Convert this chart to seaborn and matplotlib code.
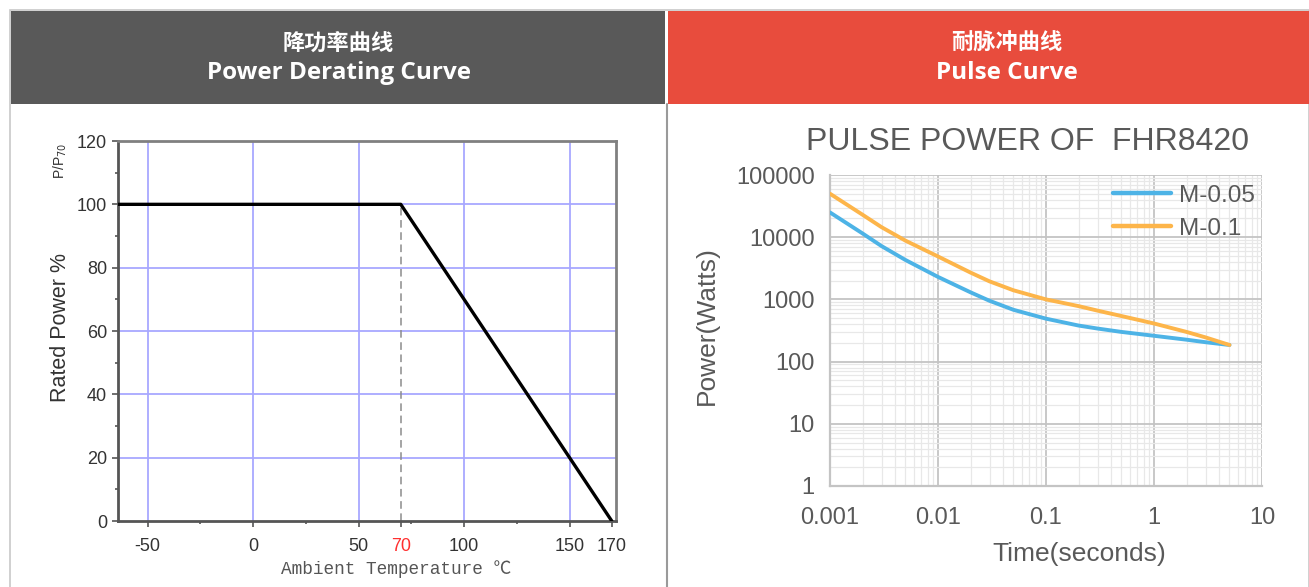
import numpy as np
import pandas as pd
import matplotlib
matplotlib.use("Agg")
import matplotlib.pyplot as plt
import seaborn as sns
from matplotlib.patches import Rectangle
from matplotlib.lines import Line2D
from matplotlib.ticker import FixedLocator, NullFormatter, LogLocator

sns.set_theme(style="white")
plt.rcParams['font.family'] = ['Liberation Sans', 'Noto Sans CJK SC', 'DejaVu Sans']

# ---------------- data ----------------
derate_temp = [-65, 70, 170]
derate_power = [100, 100, 0]
derate_xticks = [-50, 0, 50, 70, 100, 150, 170]
derate_yticks = [0, 20, 40, 60, 80, 100, 120]

pulse_time = [0.001, 0.002, 0.003, 0.005, 0.01, 0.02, 0.03, 0.05, 0.1, 0.2, 0.3, 0.5, 1, 2, 3, 5]
pulse_m005 = [25000, 11500, 7200, 4300, 2300, 1300, 950, 680, 490, 380, 340, 300, 260, 225, 205, 185]
pulse_m01 = [50000, 23000, 14500, 8800, 4900, 2700, 1950, 1400, 1000, 780, 660, 540, 410, 300, 245, 185]
pulse_xticks = [0.001, 0.01, 0.1, 1, 10]
pulse_xticklabels = ["0.001", "0.01", "0.1", "1", "10"]
pulse_yticks = [1, 10, 100, 1000, 10000, 100000]
pulse_yticklabels = ["1", "10", "100", "1000", "10000", "100000"]

W, H = 1309, 587
fig = plt.figure(figsize=(W / 100, H / 100), dpi=100)
fig.patch.set_facecolor("white")


def box(x0, y0, x1, y1):
    return [x0 / W, 1 - y1 / H, (x1 - x0) / W, (y1 - y0) / H]


def fx(px):
    return px / W


def fy(py):
    return 1 - py / H


# ------------- frame & headers -------------
def rect(x0, y0, x1, y1, **kw):
    fig.patches.append(Rectangle((x0 / W, 1 - y1 / H), (x1 - x0) / W, (y1 - y0) / H,
                                 transform=fig.transFigure, zorder=-5, **kw))


rect(10, 10, 1309, 600, facecolor="white", edgecolor="#C8C8C8", linewidth=1.2)
rect(11, 11, 665, 104, facecolor="#595959", edgecolor="none")
rect(668, 11, 1309, 104, facecolor="#E84C3D", edgecolor="none")
fig.lines.append(Line2D([fx(666.5), fx(666.5)], [fy(104), 0], transform=fig.transFigure,
                        color="#9A9A9A", linewidth=1.5, zorder=-4))

hdr_font = ['Noto Sans CJK SC', 'DejaVu Sans']
fig.text(fx(338), fy(43), "降功率曲线", color="white", fontsize=16, fontweight="bold",
         ha="center", va="center", family=hdr_font)
fig.text(fx(339), fy(73), "Power Derating Curve", color="white", fontsize=17.5, fontweight="bold",
         ha="center", va="center", family=['Open Sans', 'DejaVu Sans'])
fig.text(fx(1007), fy(43), "耐脉冲曲线", color="white", fontsize=16, fontweight="bold",
         ha="center", va="center", family=hdr_font)
fig.text(fx(1007), fy(73), "Pulse Curve", color="white", fontsize=17.5, fontweight="bold",
         ha="center", va="center", family=['Open Sans', 'DejaVu Sans'])

# ------------- left chart -------------
ax1 = fig.add_axes(box(118, 141, 616, 521))
ax1.set_facecolor("white")
ax1.set_xlim(-64, 172)
ax1.set_ylim(0, 120)
ax1.set_xticks(derate_xticks)
ax1.set_xticklabels([str(v) for v in derate_xticks])
ax1.set_yticks(derate_yticks)
ax1.xaxis.set_minor_locator(FixedLocator([-25, 25, 75, 125]))
ax1.yaxis.set_minor_locator(FixedLocator([10, 30, 50, 70, 90, 110]))
for v in [-50, 0, 50, 100, 150]:
    ax1.axvline(v, color="#A8A8FF", linewidth=1.3, zorder=1)
for v in [20, 40, 60, 80, 100]:
    ax1.axhline(v, color="#A8A8FF", linewidth=1.3, zorder=1)
ax1.plot([70, 70], [0, 100], color="#8C8C8C", linestyle=(0, (5, 3)), linewidth=1.1, zorder=2)
sns.lineplot(x=derate_temp, y=derate_power, ax=ax1, color="black", linewidth=2.4, zorder=3)
ax1.tick_params(axis="both", which="major", direction="out", length=4, width=1.2, color="#555555",
                labelsize=13, labelcolor="#333333", bottom=True, left=True)
ax1.tick_params(axis="x", which="major", pad=8)
ax1.tick_params(axis="y", which="major", pad=4)
ax1.tick_params(axis="both", which="minor", direction="out", length=2.5, width=1.2, color="#555555",
                bottom=True, left=True)
for lbl in ax1.get_xticklabels():
    if lbl.get_text() == "70":
        lbl.set_color("#FF3030")
for s in ["left", "bottom"]:
    ax1.spines[s].set_color("#555555")
    ax1.spines[s].set_linewidth(2)
for s in ["top", "right"]:
    ax1.spines[s].set_color("#808080")
    ax1.spines[s].set_linewidth(2)
ax1.set_xlabel("")
ax1.set_ylabel("")
fig.text(fx(396), fy(569), "Ambient Temperature ℃", fontsize=12.8, color="#555555",
         family=['Liberation Mono', 'Noto Sans CJK SC'], ha="center", va="center")
fig.text(fx(61), fy(328), "Rated Power %", rotation=90, fontsize=15.5, color="#333333",
         ha="center", va="center")
fig.text(fx(60), fy(161), "P/P$_{70}$", rotation=90, fontsize=10, color="#333333",
         ha="center", va="center")

# ------------- right chart -------------
ax2 = fig.add_axes(box(830, 175, 1262, 486))
ax2.set_facecolor("white")
df = pd.DataFrame({
    "time": pulse_time * 2,
    "power": pulse_m005 + pulse_m01,
    "series": ["M-0.05"] * len(pulse_time) + ["M-0.1"] * len(pulse_time),
})
ax2.set_xscale("log")
ax2.set_yscale("log")
sns.lineplot(data=df, x="time", y="power", hue="series", ax=ax2,
             palette={"M-0.05": "#4DB3E6", "M-0.1": "#FDB54A"}, linewidth=2.8, zorder=3)
ax2.set_xlim(0.001, 10)
ax2.set_ylim(1, 100000)
ax2.set_xticks(pulse_xticks)
ax2.set_xticklabels(pulse_xticklabels)
ax2.set_yticks(pulse_yticks)
ax2.set_yticklabels(pulse_yticklabels)
ax2.xaxis.set_minor_locator(LogLocator(base=10, subs=np.arange(2, 10), numticks=20))
ax2.yaxis.set_minor_locator(LogLocator(base=10, subs=np.arange(2, 10), numticks=20))
ax2.xaxis.set_minor_formatter(NullFormatter())
ax2.yaxis.set_minor_formatter(NullFormatter())
ax2.grid(True, which="major", color="#C4C4C4", linewidth=1.3, zorder=0)
ax2.grid(True, which="minor", color="#E8E8E8", linewidth=0.9, zorder=0)
ax2.set_axisbelow(True)
ax2.tick_params(axis="both", which="both", length=0, labelsize=17, labelcolor="#595959")
ax2.tick_params(axis="x", pad=15)
ax2.tick_params(axis="y", pad=11)
for s in ["left", "bottom"]:
    ax2.spines[s].set_color("#C4C4C4")
    ax2.spines[s].set_linewidth(1.6)
for s in ["top", "right"]:
    ax2.spines[s].set_visible(False)
ax2.set_xlabel("")
ax2.set_ylabel("")
fig.text(fx(1079), fy(554), "Time(seconds)", fontsize=19, color="#595959", ha="center", va="center")
fig.text(fx(707), fy(326), "Power(Watts)", fontsize=19, color="#595959", rotation=90,
         ha="center", va="center")
fig.text(fx(1028), fy(142), "PULSE POWER OF  FHR8420", fontsize=23, color="#595959",
         ha="center", va="center")
leg = ax2.legend(loc="upper right", frameon=False, fontsize=17.5, handlelength=2.4,
                 borderaxespad=0.0, labelspacing=0.45, handletextpad=0.3,
                 bbox_to_anchor=(1.005, 1.0))
for t in leg.get_texts():
    t.set_color("#595959")
for l in leg.get_lines():
    l.set_linewidth(3.2)

fig.savefig("out.png", dpi=100)
